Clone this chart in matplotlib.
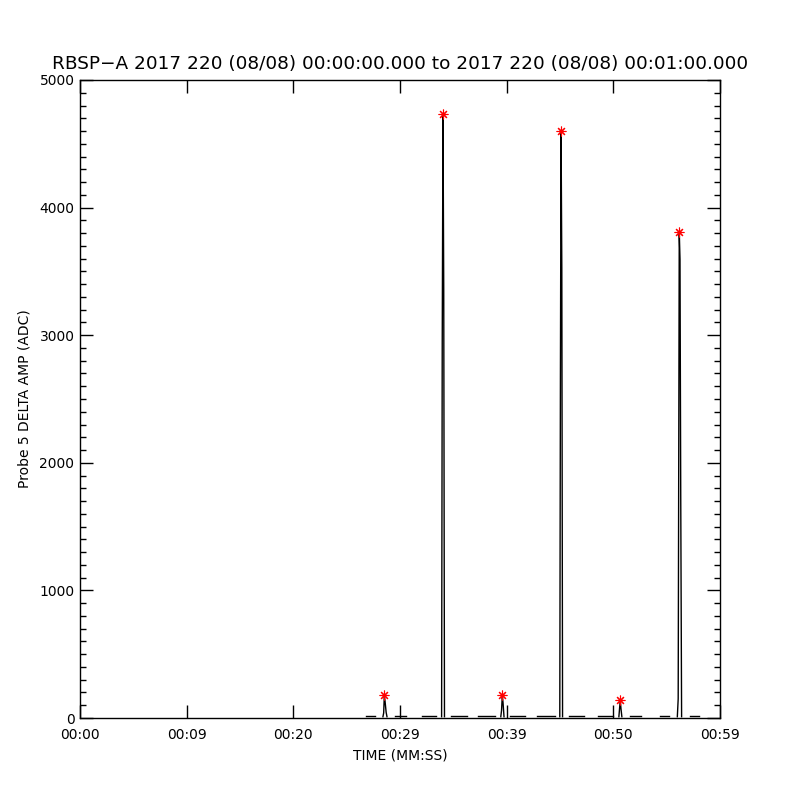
import matplotlib
matplotlib.use("Agg")
import matplotlib.pyplot as plt
from matplotlib.ticker import MultipleLocator

# bursts of samples (seconds after 00:00:00, ADC)
burst_ts = [
    [26.80, 27.10, 27.40, 27.66],
    [28.40, 28.47, 28.53, 28.60, 28.70, 28.78],
    [29.53, 29.90, 30.25, 30.56],
    [32.06, 32.50, 32.95, 33.38],
    [33.90, 33.96, 34.03, 34.10, 34.17],
    [34.78, 35.30, 35.80, 36.28],
    [37.31, 37.85, 38.40, 38.91],
    [39.45, 39.52, 39.59, 39.66, 39.75],
    [40.31, 40.80, 41.25, 41.72],
    [42.84, 43.40, 43.95, 44.53],
    [44.98, 45.04, 45.10, 45.17, 45.24],
    [45.84, 46.30, 46.80, 47.25],
    [48.56, 49.00, 49.50, 49.97],
    [50.52, 50.58, 50.65, 50.72, 50.80],
    [51.56, 51.90, 52.25, 52.59],
    [54.38, 54.65, 54.95, 55.22],
    [56.00, 56.08, 56.18, 56.25, 56.32, 56.40],
    [57.19, 57.45, 57.75, 58.03],
]
burst_vs = [
    [13, 13, 13, 13],
    [10, 40, 178, 130, 45, 10],
    [13, 13, 13, 13],
    [13, 13, 13, 13],
    [10, 2950, 4735, 3360, 10],
    [13, 13, 13, 13],
    [13, 13, 13, 13],
    [10, 60, 178, 120, 10],
    [13, 13, 13, 13],
    [13, 13, 13, 13],
    [10, 2690, 4602, 3525, 10],
    [13, 13, 13, 13],
    [13, 13, 13, 13],
    [10, 70, 139, 70, 10],
    [13, 13, 13, 13],
    [13, 13, 13, 13],
    [10, 150, 3811, 3594, 1725, 10],
    [13, 13, 13, 13],
]

# peak of each burst
peak_t = [28.53, 34.03, 39.59, 45.10, 50.65, 56.18]
peak_v = [178, 4735, 178, 4602, 139, 3811]

xtick_pos = [0, 10, 20, 30, 40, 50, 60]
xtick_lab = ["00:00", "00:09", "00:20", "00:29", "00:39", "00:50", "00:59"]

fig = plt.figure(figsize=(8, 8), dpi=100)
ax = fig.add_axes([0.1, 0.1025, 0.8, 0.7975])

for t, v in zip(burst_ts, burst_vs):
    ax.plot(t, v, color="black", lw=1.0)
ax.plot(peak_t, peak_v, linestyle="none", marker=(8, 2, 0), ms=7, mew=0.8,
        color="red")

ax.set_xlim(0, 60)
ax.set_ylim(0, 5000)
ax.set_xticks(xtick_pos)
ax.set_xticklabels(xtick_lab)
ax.yaxis.set_major_locator(MultipleLocator(1000))
ax.yaxis.set_minor_locator(MultipleLocator(100))

ax.tick_params(axis="both", which="both", direction="in", top=True, right=True,
               labelsize=10, width=1.0)
ax.tick_params(axis="x", which="major", length=9.4, pad=7)
ax.tick_params(axis="y", which="major", length=9.4, pad=4)
ax.tick_params(axis="y", which="minor", length=4.3)
for s in ax.spines.values():
    s.set_linewidth(1.0)

ax.set_xlabel("TIME (MM:SS)", fontsize=10, labelpad=5)
ax.set_ylabel("Probe 5 DELTA AMP (ADC)", fontsize=10)
ax.yaxis.set_label_coords(-0.076, 0.5)
ax.set_title("RBSP\u2212A 2017 220 (08/08) 00:00:00.000 to 2017 220 (08/08) 00:01:00.000",
             fontsize=13.3, pad=8)

fig.savefig("out.png", dpi=100)
